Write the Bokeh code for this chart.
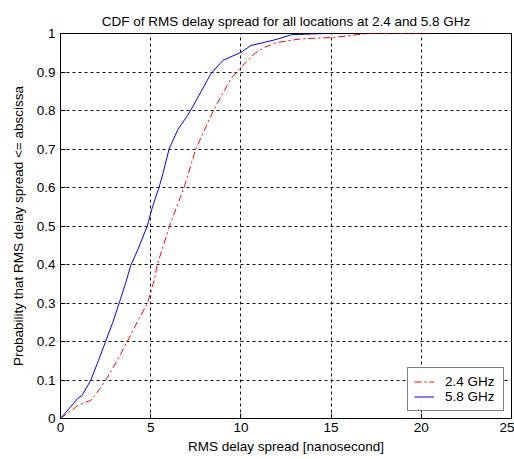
from bokeh.plotting import figure
from bokeh.models import Legend, LegendItem, FixedTicker
from bokeh.embed import file_html
from bokeh.resources import INLINE

# 2.4 GHz series (red, dash-dot)
x_24 = [0, 0.83, 1.0, 1.39, 1.67, 2.04, 2.5, 3.15, 3.7, 4.35, 4.81, 5.19, 5.37, 6.02, 6.3,
        6.85, 7.5, 8.52, 9.44, 10.0, 10.74, 11.3, 12.04, 13.3, 15.2, 17.0, 20.4]
y_24 = [0, 0.029, 0.035, 0.042, 0.047, 0.068, 0.099, 0.151, 0.2, 0.259, 0.298, 0.358, 0.40,
        0.497, 0.532, 0.60, 0.70, 0.804, 0.882, 0.912, 0.947, 0.964, 0.977, 0.986, 0.99, 1.0, 1.0]

# 5.8 GHz series (blue, solid)
x_58 = [0, 0.5, 0.93, 1.2, 1.67, 2.1, 2.5, 2.9, 3.24, 3.6, 3.89, 4.3, 4.81, 5.1, 5.46, 5.7,
        6.02, 6.5, 7.04, 7.31, 7.8, 8.33, 9.0, 10.0, 10.56, 11.3, 12.0, 12.8, 14.7]
y_58 = [0, 0.027, 0.051, 0.06, 0.099, 0.15, 0.2, 0.25, 0.298, 0.35, 0.397, 0.44, 0.50, 0.55,
        0.60, 0.64, 0.70, 0.75, 0.787, 0.808, 0.85, 0.895, 0.93, 0.951, 0.969, 0.977, 0.985,
        0.997, 1.0]

x_ticks = [0, 5, 10, 15, 20, 25]
y_ticks = [0, 0.1, 0.2, 0.3, 0.4, 0.5, 0.6, 0.7, 0.8, 0.9, 1.0]
y_tick_labels = ["0", "0.1", "0.2", "0.3", "0.4", "0.5", "0.6", "0.7", "0.8", "0.9", "1"]

FONT = "Liberation Sans"
FS = "13.5px"

p = figure(width=514, height=459, output_backend="svg", toolbar_location=None,
           x_range=(0, 25), y_range=(0, 1),
           title="CDF of RMS delay spread for all locations at 2.4 and 5.8 GHz",
           min_border_left=60, min_border_right=3, min_border_top=33, min_border_bottom=41)

p.background_fill_color = "white"
p.border_fill_color = "white"
p.outline_line_color = "black"
p.outline_line_width = 1

p.title.align = "center"
p.title.text_font = FONT
p.title.text_font_size = FS
p.title.text_font_style = "normal"
p.title.text_color = "black"

r24 = p.line(x_24, y_24, line_color="#ff0000", line_width=1, line_dash="7 3 2 3")
r58 = p.line(x_58, y_58, line_color="#0000ff", line_width=1)

for ax in (p.xaxis[0], p.yaxis[0]):
    ax.major_tick_in = 5
    ax.major_tick_out = 0
    ax.minor_tick_in = 0
    ax.minor_tick_out = 0
    ax.major_label_text_font = FONT
    ax.major_label_text_font_size = FS
    ax.major_label_text_color = "black"
    ax.axis_label_text_font = FONT
    ax.axis_label_text_font_size = FS
    ax.axis_label_text_font_style = "normal"
    ax.axis_label_text_color = "black"
    ax.axis_line_color = "black"
    ax.major_tick_line_color = "black"

p.xaxis[0].ticker = FixedTicker(ticks=x_ticks)
p.yaxis[0].ticker = FixedTicker(ticks=y_ticks)
p.yaxis[0].major_label_overrides = {t: l for t, l in zip(y_ticks, y_tick_labels)}
p.xaxis[0].axis_label = "RMS delay spread [nanosecond]"
p.yaxis[0].axis_label = "Probability that RMS delay spread <= abscissa"
p.xaxis[0].major_label_standoff = 4
p.xaxis[0].axis_label_standoff = 4
p.yaxis[0].major_label_standoff = 5
p.yaxis[0].axis_label_standoff = 8

p.xgrid.ticker = FixedTicker(ticks=x_ticks)
p.ygrid.ticker = FixedTicker(ticks=y_ticks)
for g in (p.xgrid[0], p.ygrid[0]):
    g.grid_line_color = "#111111"
    g.grid_line_dash = "3 3"
    g.grid_line_width = 1

legend = Legend(items=[LegendItem(label="2.4 GHz", renderers=[r24]),
                       LegendItem(label="5.8 GHz", renderers=[r58])],
                location="bottom_right")
legend.border_line_color = "black"
legend.border_line_width = 1
legend.background_fill_color = "white"
legend.label_text_font = FONT
legend.label_text_font_size = FS
legend.label_text_color = "black"
legend.margin = 7
legend.padding = 6
legend.spacing = 0
legend.label_height = 15
legend.glyph_height = 15
legend.glyph_width = 20
legend.label_standoff = 11
legend.label_width = 52
p.add_layout(legend, "center")

open("out.html", "w").write(file_html(p, INLINE))
